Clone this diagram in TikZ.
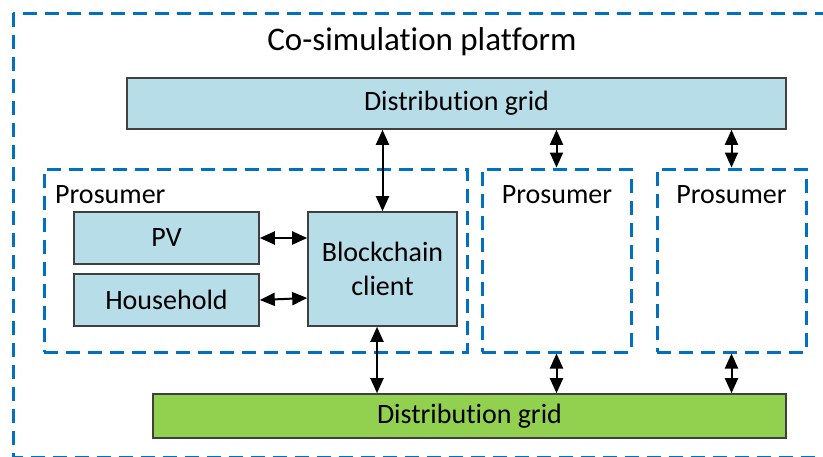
\documentclass[tikz,border=0pt]{standalone}
\usepackage{fontspec}
\setmainfont{Carlito}[Ligatures=NoCommon]
\usetikzlibrary{arrows.meta,calc}
\definecolor{gridblue}{HTML}{B7DDE8}
\definecolor{gridgreen}{HTML}{92D050}
\definecolor{dashblue}{HTML}{0070C0}
\definecolor{edgegray}{HTML}{404040}
\tikzset{
  block/.style={draw=edgegray, line width=1.6pt, fill=gridblue, inner sep=0pt, font=\fontsize{28}{34}\selectfont, align=center},
  group/.style={draw=dashblue, line width=3pt, dash pattern=on 14pt off 8pt, inner sep=0pt},
  link/.style={line width=2pt, {Triangle[length=15pt,width=13pt]}-{Triangle[length=15pt,width=13pt]}},
  caption/.style={font=\fontsize{28}{34}\selectfont, inner sep=0pt}
}
\begin{document}
\begin{tikzpicture}[x=1pt,y=-1pt]
\useasboundingbox (0,0) rectangle (823,456);
% platform frame
\draw[group] (13,13) rectangle (835,457.2);
\node[font=\fontsize{33}{40}\selectfont, inner sep=0pt] (title) at (422,42) {Co-simulation platform};
% distribution grids
\node[block, minimum width=659pt, minimum height=51pt] (gridtop) at (456.5,103.5) {Distribution grid};
\node[block, fill=gridgreen, minimum width=633pt, minimum height=44pt] (gridbot) at (469.5,416) {Distribution grid};
% prosumers
\node[group, minimum width=423pt, minimum height=183pt] (p1) at (255.5,260.5) {};
\node[group, minimum width=149pt, minimum height=183pt] (p2) at (556.5,260.5) {};
\node[group, minimum width=149pt, minimum height=183pt] (p3) at (731.5,260.5) {};
\node[caption, anchor=west] (p1lab) at (55,195) {Prosumer};
\node[caption] (p2lab) at (557,195) {Prosumer};
\node[caption] (p3lab) at (731.5,195) {Prosumer};
% components of the first prosumer
\node[block, minimum width=185pt, minimum height=52pt] (pv) at (166.5,238) {PV};
\node[block, minimum width=185pt, minimum height=52pt] (hh) at (166.5,300) {Household};
\node[block, minimum width=149pt, minimum height=114pt] (bc) at (382.5,269) {Blockchain\\client};
% links
\draw[link] (gridtop.south -| bc.north) -- (bc.north);
\draw[link] (gridtop.south -| p2.north) -- (p2.north);
\draw[link] (gridtop.south -| p3.north) -- (p3.north);
\draw[link] (pv.east) -- (pv.east -| bc.west);
\draw[link] (hh.east) -- ([yshift=2pt]hh.east -| bc.west);
\draw[link] ([xshift=-5.5pt]bc.south) -- ([xshift=-5.5pt]bc.south |- gridbot.north);
\draw[link] (p2.south) -- (p2.south |- gridbot.north);
\draw[link] (p3.south) -- (p3.south |- gridbot.north);
\end{tikzpicture}
\end{document}
